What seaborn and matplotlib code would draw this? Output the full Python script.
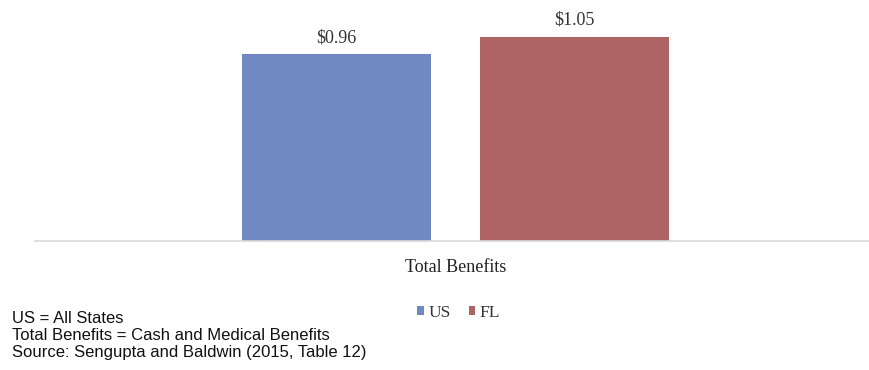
import matplotlib
matplotlib.use("Agg")
import matplotlib.pyplot as plt
import seaborn as sns
import pandas as pd
from matplotlib.patches import Patch

# Benefit levels per category and region
categories = ["Total Benefits"]
regions = ["US", "FL"]
values = [0.96, 1.05]
value_labels = ["$0.96", "$1.05"]
footnotes = [
    "US = All States",
    "Total Benefits = Cash and Medical Benefits",
    "Source: Sengupta and Baldwin (2015, Table 12)",
]

colors = {"US": "#7189c2", "FL": "#ad6462"}

df = pd.DataFrame({
    "category": categories * len(regions),
    "region": regions,
    "value": values,
})

sns.set_theme(style="white")
plt.rcParams["font.family"] = ["Liberation Serif", "DejaVu Serif"]

fig = plt.figure(figsize=(8.69, 3.70), dpi=100)
ax = fig.add_axes([0.040, 0.349, 0.960, 0.651])

sns.barplot(data=df, x="category", y="value", hue="region",
            palette=colors, width=0.571, gap=0.206, ax=ax,
            legend=False, saturation=1, edgecolor="none")

ax.set_ylim(0, 1.24)
ax.set_xlim(-0.5045, 0.4955)
ax.set_xlabel("")
ax.set_ylabel("")
ax.set_yticks([])
for side in ["left", "right", "top"]:
    ax.spines[side].set_visible(False)
ax.spines["bottom"].set_color("#d9d9d9")
ax.spines["bottom"].set_linewidth(1.2)
ax.tick_params(axis="x", length=0, pad=13, labelsize=13, labelcolor="#222222")

for container, lab in zip(ax.containers, value_labels):
    ax.bar_label(container, labels=[lab], padding=6, fontsize=13, color="#333333")

# legend below the category label
handles = [Patch(facecolor=colors[r], edgecolor="none") for r in regions]
fig.legend(handles, regions, loc="center", bbox_to_anchor=(0.528, 0.154),
           ncol=2, frameon=False, fontsize=12.5, handlelength=0.4,
           handleheight=0.4, handletextpad=0.25, columnspacing=1.0,
           labelcolor="#333333")

for i, line in enumerate(footnotes):
    fig.text(0.014, 0.140 - i * 0.047, line, fontsize=12,
             family=["Liberation Sans", "DejaVu Sans"], color="#111111",
             va="center")

fig.savefig("out.png", dpi=100)
